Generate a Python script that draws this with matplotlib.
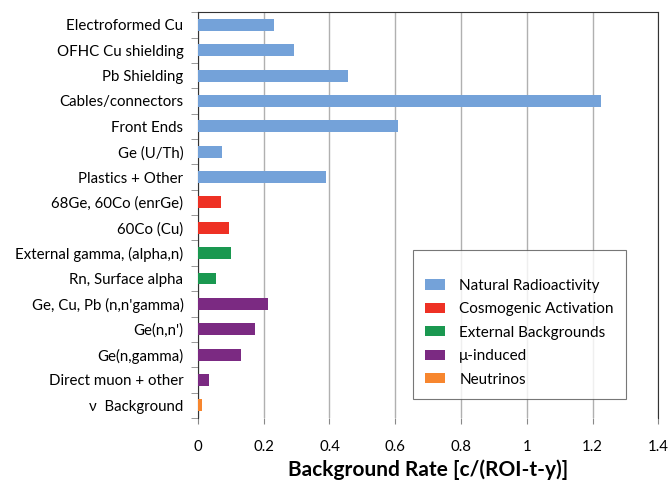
import numpy as np
import matplotlib.pyplot as plt
from matplotlib.patches import Patch

plt.rcParams['font.family'] = ['Lato', 'DejaVu Sans']

labels = ["Electroformed Cu", "OFHC Cu shielding", "Pb Shielding", "Cables/connectors",
          "Front Ends", "Ge (U/Th)", "Plastics + Other", "68Ge, 60Co (enrGe)",
          "60Co (Cu)", "External gamma, (alpha,n)", "Rn, Surface alpha",
          "Ge, Cu, Pb (n,n'gamma)", "Ge(n,n')", "Ge(n,gamma)", "Direct muon + other",
          "\u03bd  Background"]
rates = [0.232, 0.293, 0.455, 1.227, 0.607, 0.072, 0.39, 0.07,
         0.095, 0.10, 0.055, 0.213, 0.174, 0.131, 0.032, 0.012]
groups = [0, 0, 0, 0, 0, 0, 0, 1, 1, 2, 2, 3, 3, 3, 3, 4]

group_names = ["Natural Radioactivity", "Cosmogenic Activation", "External Backgrounds",
               "\u03bc-induced", "Neutrinos"]
group_colors = ["#74a2d9", "#ee3124", "#1a9850", "#7b2a82", "#f7862e"]

fig = plt.figure(figsize=(6.7, 4.86), dpi=100)
ax = fig.add_axes([0.2955, 0.140, 0.687, 0.835])

y = np.arange(len(labels))
cols = [group_colors[g] for g in groups]
ax.barh(y, rates, height=0.47, color=cols, zorder=3)

ax.set_ylim(len(labels) - 0.5, -0.5)
ax.set_yticks(y)
ax.set_yticklabels(labels, fontsize=10.8)
ax.set_yticks(np.arange(-0.5, len(labels), 1), minor=True)
ax.tick_params(axis='y', which='major', length=0, pad=10.5)
ax.tick_params(axis='y', which='minor', length=5, color='#888888')

ax.set_xlim(0, 1.4)
ax.set_xticks(np.arange(0, 1.41, 0.2))
ax.set_xticklabels(["0", "0.2", "0.4", "0.6", "0.8", "1", "1.2", "1.4"], fontsize=10.8)
ax.tick_params(axis='x', length=4, color='#888888', pad=12)
ax.grid(axis='x', color='#b0b0b0', linewidth=1, zorder=0)
ax.set_xlabel("Background Rate [c/(ROI-t-y)]", fontsize=15, fontweight='bold', va='center')
ax.xaxis.set_label_coords(0.5, -0.128)

for s in ax.spines.values():
    s.set_color('#333333')
ax.spines['bottom'].set_visible(False)

handles = [Patch(facecolor=c) for c in group_colors]
leg = ax.legend(handles, group_names, loc='lower right', bbox_to_anchor=(0.930, 0.047),
                fontsize=11, frameon=True, fancybox=False, edgecolor='#555555',
                handlelength=1.3, handleheight=0.65, handletextpad=0.95,
                labelspacing=0.62, borderpad=0.8, borderaxespad=0,
                title=" ", title_fontsize=5)
leg.get_frame().set_linewidth(0.8)

fig.savefig("out.png", dpi=100)
